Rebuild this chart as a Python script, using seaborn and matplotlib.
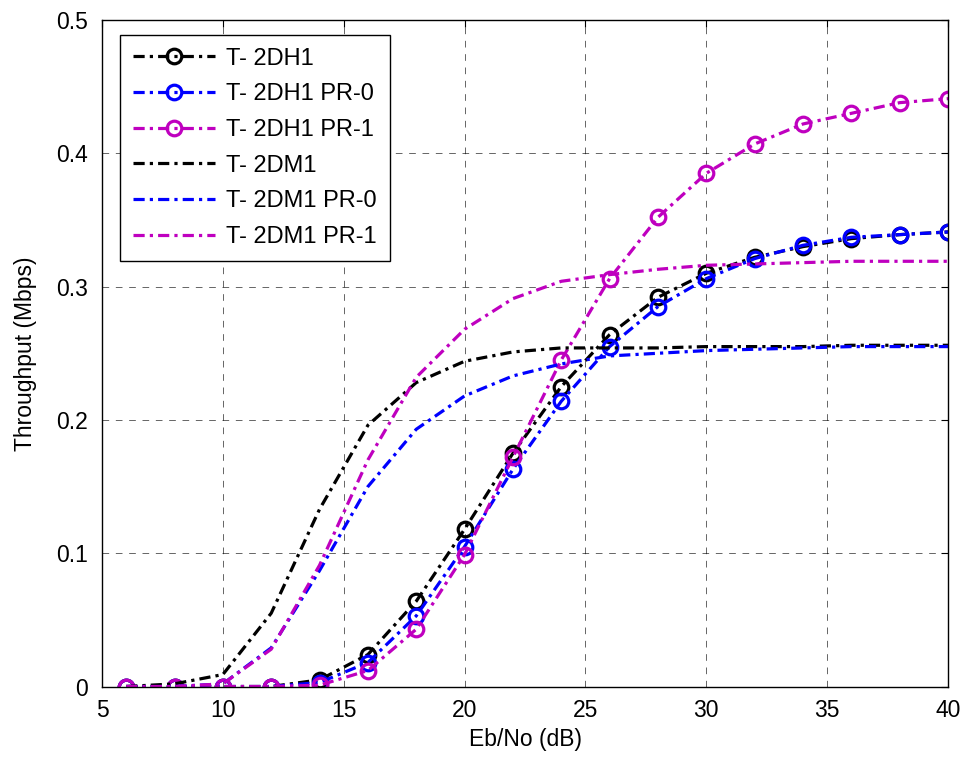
import numpy as np
import pandas as pd
import matplotlib
matplotlib.use("Agg")
import matplotlib.pyplot as plt
import seaborn as sns

# Eb/No values (dB), all series share the same sample points
ebno = [6, 8, 10, 12, 14, 16, 18, 20, 22, 24, 26, 28, 30, 32, 34, 36, 38, 40]

# throughput (Mbps)
t_2dh1 = [0, 0, 0, 0, 0.005, 0.024, 0.064, 0.118, 0.175, 0.225, 0.264, 0.292,
          0.310, 0.322, 0.330, 0.336, 0.339, 0.341]
t_2dh1_pr0 = [0, 0, 0, 0, 0.003, 0.018, 0.053, 0.105, 0.163, 0.214, 0.255, 0.285,
              0.306, 0.321, 0.331, 0.337, 0.339, 0.341]
t_2dh1_pr1 = [0, 0, 0, 0, 0.001, 0.012, 0.043, 0.099, 0.172, 0.245, 0.306, 0.352,
              0.385, 0.407, 0.422, 0.430, 0.438, 0.441]
t_2dm1 = [0, 0.002, 0.009, 0.055, 0.133, 0.196, 0.228, 0.244, 0.251, 0.254, 0.254,
          0.254, 0.255, 0.255, 0.255, 0.256, 0.256, 0.256]
t_2dm1_pr0 = [0, 0, 0.002, 0.029, 0.087, 0.150, 0.193, 0.218, 0.233, 0.242, 0.248,
              0.250, 0.252, 0.253, 0.254, 0.255, 0.255, 0.255]
t_2dm1_pr1 = [0, 0, 0.002, 0.028, 0.091, 0.170, 0.232, 0.268, 0.291, 0.304, 0.309,
              0.313, 0.316, 0.317, 0.318, 0.319, 0.319, 0.319]

labels = ["T- 2DH1", "T- 2DH1 PR-0", "T- 2DH1 PR-1",
          "T- 2DM1", "T- 2DM1 PR-0", "T- 2DM1 PR-1"]
series = [t_2dh1, t_2dh1_pr0, t_2dh1_pr1, t_2dm1, t_2dm1_pr0, t_2dm1_pr1]
colors = ["black", "#0000ff", "#bf00bf", "black", "#0000ff", "#bf00bf"]
has_marker = [True, True, True, False, False, False]

sns.set_style("white")
plt.rcParams["font.family"] = ["Liberation Sans", "DejaVu Sans"]
plt.rcParams["text.color"] = "black"
plt.rcParams["axes.labelcolor"] = "black"

fig = plt.figure(figsize=(9.66, 7.58), dpi=100)
ax = fig.add_axes([0.1056, 0.0943, 0.8758, 0.8793])

dashdot = (0, (3.5, 1.6, 1.0, 1.6))
for lab, vals, col, mk in zip(labels, series, colors, has_marker):
    df = pd.DataFrame({"ebno": ebno, "thr": vals})
    kw = dict(color=col, linewidth=2.3, linestyle=dashdot, label=lab)
    if mk:
        kw.update(marker="o", markersize=10.5, markerfacecolor="none",
                  markeredgecolor=col, markeredgewidth=2.3)
    sns.lineplot(data=df, x="ebno", y="thr", ax=ax, **kw)

ax.set_xlim(5, 40)
ax.set_ylim(0, 0.5)
ax.set_xticks(np.arange(5, 41, 5))
ax.set_yticks(np.arange(0, 0.51, 0.1))
ax.set_xticklabels([str(v) for v in range(5, 41, 5)])
ax.set_yticklabels(["0", "0.1", "0.2", "0.3", "0.4", "0.5"])
ax.grid(True, color="black", linestyle=(0, (8, 8)), linewidth=0.6, alpha=0.7)
ax.tick_params(direction="in", length=5, width=0.8, top=True, right=True,
               labelsize=16.5, colors="black")
ax.tick_params(axis="y", pad=10)
ax.tick_params(axis="x", pad=9)
for sp in ax.spines.values():
    sp.set_visible(True)
    sp.set_color("black")
    sp.set_linewidth(1.0)

ax.set_xlabel("Eb/No (dB)", fontsize=16.5, labelpad=4)
ax.set_ylabel("Throughput (Mbps)", fontsize=16.5, labelpad=14)

leg = ax.legend(loc="upper left", bbox_to_anchor=(0.021, 0.978), borderaxespad=0,
                fontsize=17, handlelength=3.5, handletextpad=0.45,
                labelspacing=0.58, borderpad=0.55, fancybox=False,
                framealpha=1, edgecolor="black")
leg.get_frame().set_linewidth(1.0)

fig.savefig("out.png", dpi=100)
